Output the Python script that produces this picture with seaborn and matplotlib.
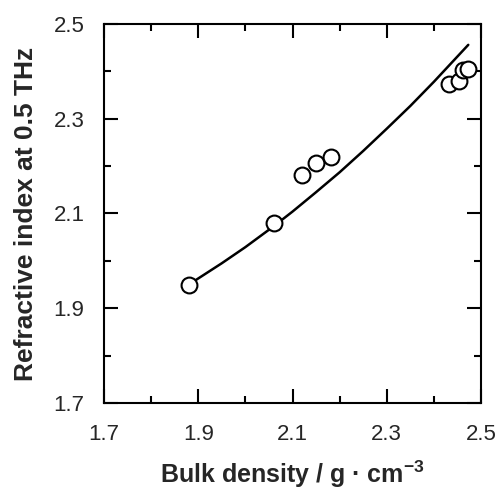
import matplotlib
matplotlib.use("Agg")
import matplotlib.pyplot as plt
import seaborn as sns
import pandas as pd
from matplotlib.ticker import MultipleLocator

# measured data (bulk density, refractive index at 0.5 THz)
density = [1.88, 2.06, 2.12, 2.15, 2.182, 2.432, 2.454, 2.462, 2.472]
refr_index = [1.95, 2.08, 2.181, 2.207, 2.219, 2.374, 2.380, 2.402, 2.405]

# model curve
curve_density = [1.88, 1.95, 2.0, 2.06, 2.1, 2.15, 2.2, 2.25, 2.3, 2.35, 2.4, 2.473]
curve_index = [1.950, 1.995, 2.029, 2.073, 2.104, 2.145, 2.187, 2.232, 2.279, 2.327, 2.378, 2.456]

xticks = [1.7, 1.9, 2.1, 2.3, 2.5]
yticks = [1.7, 1.9, 2.1, 2.3, 2.5]

sns.set_style("ticks")
plt.rcParams['font.family'] = ['Liberation Sans', 'DejaVu Sans']

pts = pd.DataFrame({"x": density, "y": refr_index})
crv = pd.DataFrame({"x": curve_density, "y": curve_index})

fig = plt.figure(figsize=(5.0, 4.9), dpi=100)
ax = fig.add_axes([0.208, 0.1776, 0.754, 0.7734])

sns.lineplot(data=crv, x="x", y="y", ax=ax, color="black", linewidth=1.8,
             sort=False, estimator=None)
sns.scatterplot(data=pts, x="x", y="y", ax=ax, marker="o", s=130,
                facecolor="white", edgecolor="black", linewidth=1.5, zorder=3)

ax.set_xlim(1.7, 2.5)
ax.set_ylim(1.7, 2.5)
ax.set_xticks(xticks)
ax.set_yticks(yticks)
ax.set_xticklabels([f"{v:.1f}" for v in xticks], fontsize=16)
ax.set_yticklabels([f"{v:.1f}" for v in yticks], fontsize=16)
ax.xaxis.set_minor_locator(MultipleLocator(0.1))
ax.yaxis.set_minor_locator(MultipleLocator(0.1))

ax.tick_params(which="both", direction="in", top=True, right=True,
               color="black", width=1.5)
ax.tick_params(which="major", length=10)
ax.tick_params(which="minor", length=5)
ax.tick_params(axis="x", which="major", pad=15)
ax.tick_params(axis="y", which="major", pad=14)

for sp in ax.spines.values():
    sp.set_linewidth(1.5)
    sp.set_color("black")

ax.set_xlabel("Bulk density / g \u00b7 cm$^{\\mathregular{-3}}$",
              fontsize=18, fontweight="bold", labelpad=10)
ax.set_ylabel("Refractive index at 0.5 THz", fontsize=19, fontweight="bold",
              labelpad=11)

fig.savefig("out.png", dpi=100)
